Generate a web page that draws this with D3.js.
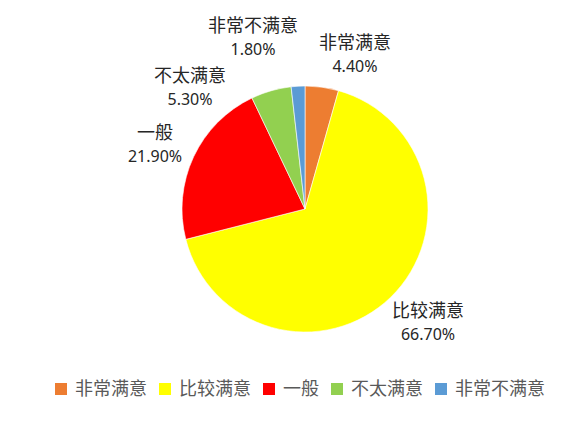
<!DOCTYPE html>
<html>
<head>
<meta charset="utf-8">
<script src="https://cdn.jsdelivr.net/npm/d3@7"></script>
<style>
  body { margin: 0; background: #fff; }
  text { font-family: "Noto Sans", "Noto Sans CJK SC", sans-serif; }
</style>
</head>
<body>
<script>
let categories = ['非常满意', '比较满意', '一般', '不太满意', '非常不满意']
let values = [4.4, 66.7, 21.9, 5.3, 1.8]
let percentLabels = ['4.40%', '66.70%', '21.90%', '5.30%', '1.80%']

let sliceColors = ['#ED7D31', '#FFFF00', '#FF0000', '#92D050', '#5B9BD5']
// label anchors relative to pie centre (Excel lets users drag them)
let labelAnchor = [[50, -160], [123, 108], [-150, -70], [-115, -127], [-52, -177]]

function createPie() {
  let width = 572, height = 434
  let cx = 305, cy = 209, radius = 123

  let svg = d3.select('body').append('svg')
    .attr('width', width)
    .attr('height', height)

  let data = categories.map((c, i) => ({ name: c, value: values[i], label: percentLabels[i] }))

  let pie = d3.pie().sort(null).value(d => d.value)
  let arc = d3.arc().innerRadius(0).outerRadius(radius)

  let g = svg.append('g').attr('transform', `translate(${cx},${cy})`)

  g.selectAll('path')
    .data(pie(data))
    .enter()
    .append('path')
    .attr('d', arc)
    .attr('fill', (d, i) => sliceColors[i])
    .attr('stroke', '#fff')
    .attr('stroke-width', 0.6)

  // data labels: name on first line, percent below
  let labels = g.selectAll('.lbl')
    .data(data)
    .enter()
    .append('text')
    .attr('class', 'lbl')
    .attr('text-anchor', 'middle')
    .attr('fill', '#262626')

  labels.append('tspan')
    .attr('x', (d, i) => labelAnchor[i][0])
    .attr('y', (d, i) => labelAnchor[i][1])
    .attr('font-size', 18)
    .text(d => d.name)

  labels.append('tspan')
    .attr('x', (d, i) => labelAnchor[i][0])
    .attr('y', (d, i) => labelAnchor[i][1] + 23)
    .attr('font-size', 16)
    .text(d => d.label)

  // legend
  let legend = svg.append('g').attr('class', 'legend')
  let items = legend.selectAll('g')
    .data(data)
    .enter()
    .append('g')

  items.append('rect')
    .attr('width', 12)
    .attr('height', 12)
    .attr('y', -6)
    .attr('fill', (d, i) => sliceColors[i])

  items.append('text')
    .attr('x', 20)
    .attr('dy', '0.35em')
    .attr('font-size', 18)
    .attr('fill', '#595959')
    .text(d => d.name)

  let xpos = 0
  items.each(function () {
    let item = d3.select(this)
    item.attr('transform', `translate(${xpos},0)`)
    xpos += 20 + item.select('text').node().getComputedTextLength() + 12
  })
  let total = xpos - 12
  legend.attr('transform', `translate(${300 - total / 2},389)`)
}

createPie()
</script>
</body>
</html>
